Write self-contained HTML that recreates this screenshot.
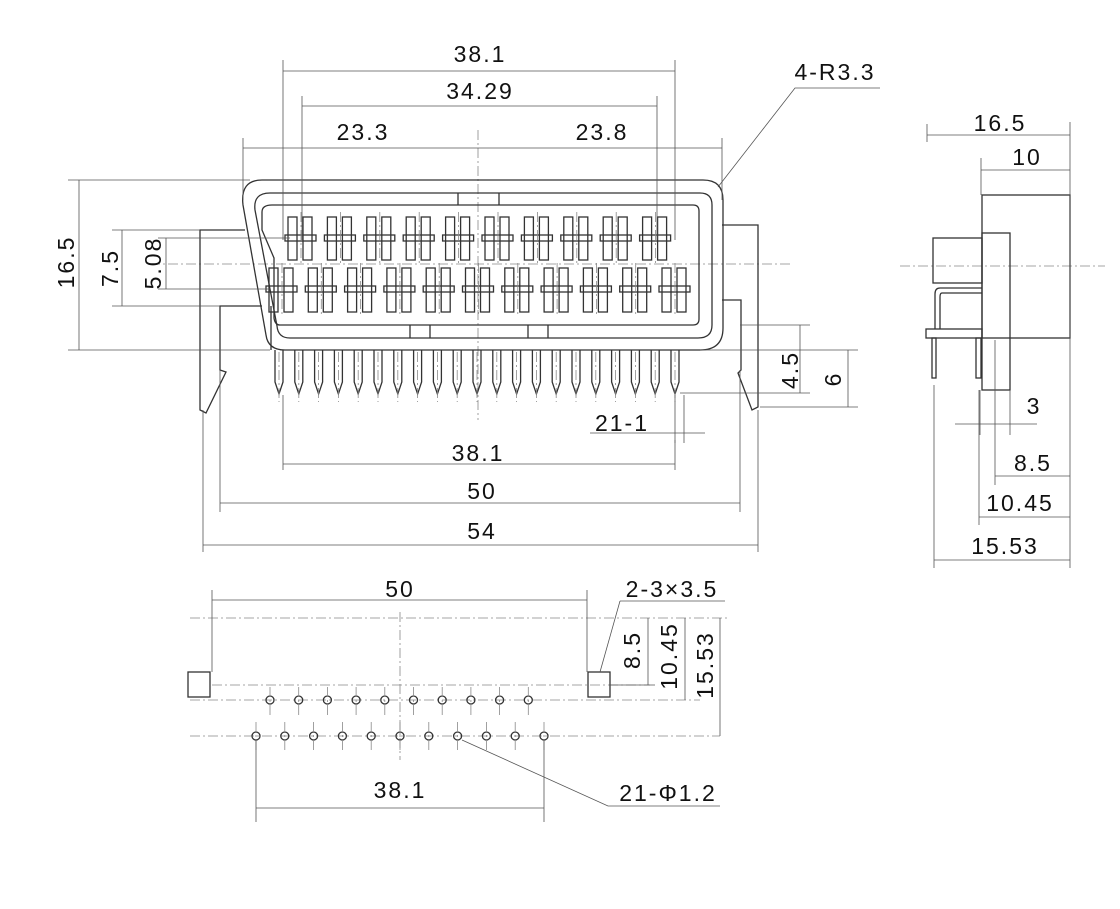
<!DOCTYPE html>
<html><head><meta charset="utf-8"><style>
html,body{margin:0;padding:0;background:#fff}
svg{display:block}
text{font-family:"Liberation Sans",sans-serif;font-size:23px;fill:#111;letter-spacing:2px}
.l{stroke:#333;stroke-width:1.3;fill:none}
.t{stroke:#555;stroke-width:0.8;fill:none}
.c{stroke:#888;stroke-width:0.8;fill:none;stroke-dasharray:10 3 2 3}
</style></head><body>
<svg id="s" width="1120" height="909" viewBox="0 0 1120 909" xmlns="http://www.w3.org/2000/svg">
<line class="c" x1="150" y1="264" x2="790" y2="264"/>
<line class="c" x1="478" y1="130" x2="478" y2="420"/>
<line class="c" x1="900" y1="266" x2="1105" y2="266"/>
<path class="l" d="M262,180 L703,180 Q723,180 723,200 L723,328 Q723,350 700,350 L285,350 Q268,350 266,335 L243,205 Q240,180 262,180 Z"/>
<path class="l" d="M270,193 L700,193 Q712,193 712,205 L712,325 Q712,338 698,338 L290,338 Q278,338 277,326 L255,210 Q253,193 270,193 Z"/>
<path class="l" d="M272,205 L693,205 Q699,205 699,211 L699,319 Q699,325 693,325 L280,325 Q275,325 274,318 L274,258 L262,230 L262,212 Q262,205 272,205 Z"/>
<path class="l" d="M458,193 L458,205 M499,193 L499,205 M410,325 L410,338 M430,325 L430,338 M528,325 L528,338 M548,325 L548,338"/>
<path class="l" d="M245,230 L200,230 L200,410 L206,413 L226,372 L220,370 L220,306 L262,306"/>
<path class="l" d="M722,225 L758,225 L758,407 L752,410 L738,373 L741,370 L741,300 L722,300"/>
<path class="l" d="M271,306 L271,350"/>
<g id="contacts"></g>
<g id="pins"></g>
<path class="t" d="M283,60 L283,240 M675,60 L675,240 M283,71 L675,71"/>
<text x="480" y="62" text-anchor="middle">38.1</text>
<path class="t" d="M302,96 L302,240 M657,96 L657,240 M302,106 L657,106"/>
<text x="480" y="99" text-anchor="middle">34.29</text>
<path class="t" d="M243,138 L243,200 M722,138 L722,200 M243,148 L722,148"/>
<text x="363" y="140" text-anchor="middle">23.3</text>
<text x="602" y="140" text-anchor="middle">23.8</text>
<text x="835" y="80" text-anchor="middle">4-R3.3</text>
<path class="t" d="M880,88 L795,88 L718,187"/>
<path class="t" d="M68,180 L250,180 M68,350 L270,350 M79,180 L79,350"/>
<text transform="translate(74,262) rotate(-90)" text-anchor="middle">16.5</text>
<path class="t" d="M112,230 L200,230 M112,306 L220,306 M122,230 L122,306"/>
<text transform="translate(118,268) rotate(-90)" text-anchor="middle">7.5</text>
<path class="t" d="M158,238 L290,238 M158,289 L270,289 M166,238 L166,289"/>
<text transform="translate(161,263) rotate(-90)" text-anchor="middle">5.08</text>
<path class="t" d="M740,325 L810,325 M680,393 L810,393 M800,325 L800,393 M700,350 L858,350 M760,407 L858,407 M848,350 L848,407"/>
<text transform="translate(798,370) rotate(-90)" text-anchor="middle">4.5</text>
<text transform="translate(841,379) rotate(-90)" text-anchor="middle">6</text>
<text x="622" y="431" text-anchor="middle">21-1</text>
<path class="t" d="M590,433 L705,433 M675,395 L675,443 M684,395 L684,443"/>
<path class="t" d="M283,395 L283,470 M675,440 L675,470 M283,464 L675,464"/>
<text x="478" y="461" text-anchor="middle">38.1</text>
<path class="t" d="M220,370 L220,512 M740,370 L740,512 M220,503 L740,503"/>
<text x="482" y="499" text-anchor="middle">50</text>
<path class="t" d="M203,410 L203,552 M758,410 L758,552 M203,545 L758,545"/>
<text x="482" y="539" text-anchor="middle">54</text>
<rect class="l" x="982" y="195" width="88" height="143"/>
<rect class="l" x="982" y="233" width="28" height="157" fill="#fff"/>
<rect class="l" x="933" y="238" width="49" height="45"/>
<path class="l" d="M982,288 L940,288 Q935,288 935,294 L935,329 M982,293 L942,293 Q940,293 940,297 L940,329"/>
<rect class="l" x="926" y="329" width="56" height="9"/>
<rect class="l" x="932" y="338" width="4" height="40"/>
<rect class="l" x="976" y="338" width="5" height="40"/>
<path class="t" d="M927,124 L927,142 M1070,122 L1070,568 M927,135 L1070,135"/>
<text x="1000" y="131" text-anchor="middle">16.5</text>
<path class="t" d="M981,158 L981,195 M981,170 L1070,170"/>
<text x="1027" y="165" text-anchor="middle">10</text>
<path class="t" d="M955,424 L1037,424 M980,390 L980,435 M1010,390 L1010,435"/>
<text x="1034" y="414" text-anchor="middle">3</text>
<path class="t" d="M995,340 L995,485 M995,476 L1070,476"/>
<text x="1033" y="471" text-anchor="middle">8.5</text>
<path class="t" d="M979,390 L979,525 M979,517 L1070,517"/>
<text x="1020" y="511" text-anchor="middle">10.45</text>
<path class="t" d="M934,385 L934,568 M934,560 L1070,560"/>
<text x="1005" y="554" text-anchor="middle">15.53</text>
<line class="c" x1="190" y1="618" x2="730" y2="618"/>
<line class="c" x1="212" y1="685" x2="650" y2="685"/>
<line class="c" x1="190" y1="700" x2="700" y2="700"/>
<line class="c" x1="190" y1="736" x2="720" y2="736"/>
<line class="c" x1="400" y1="612" x2="400" y2="760"/>
<rect class="l" x="188" y="672" width="22" height="25"/>
<rect class="l" x="588" y="672" width="22" height="25"/>
<g id="holes"></g>
<path class="t" d="M212,590 L212,672 M587,590 L587,672 M212,600 L587,600"/>
<text x="400" y="597" text-anchor="middle">50</text>
<text x="672" y="597" text-anchor="middle">2-3×3.5</text>
<path class="t" d="M620,601 L725,601 M620,601 L600,672"/>
<path class="t" d="M610,685 L655,685 M648,618 L648,685 M685,618 L685,700 M720,618 L720,736"/>
<text transform="translate(640,650) rotate(-90)" text-anchor="middle">8.5</text>
<text transform="translate(677,656) rotate(-90)" text-anchor="middle">10.45</text>
<text transform="translate(713,665) rotate(-90)" text-anchor="middle">15.53</text>
<path class="t" d="M256,740 L256,822 M544,740 L544,822 M256,808 L544,808"/>
<text x="400" y="798" text-anchor="middle">38.1</text>
<text x="668" y="801" text-anchor="middle">21-Φ1.2</text>
<path class="t" d="M462,740 L608,806 L720,806"/>
</svg>
<script>
var NS="http://www.w3.org/2000/svg";
function el(p,t,a){var e=document.createElementNS(NS,t);for(var k in a)e.setAttribute(k,a[k]);document.getElementById(p).appendChild(e);}
function contact(cx,y1,y2,by){
 el("contacts","rect",{x:cx-13,y:y1,width:9,height:y2-y1,"class":"l"});
 el("contacts","rect",{x:cx+2,y:y1,width:9,height:y2-y1,"class":"l"});
 el("contacts","rect",{x:cx-16,y:by-3,width:31,height:6,"class":"l",fill:"#fff"});
 el("contacts","line",{x1:cx,y1:y1-5,x2:cx,y2:y2+5,"class":"c"});
}
for(var i=0;i<10;i++)contact(301+i*39.4,217,260,238);
for(var i=0;i<11;i++)contact(282+i*39.3,268,312,289);
for(var i=0;i<21;i++){var x=279+i*19.8;
 el("pins","path",{d:"M"+(x-4)+",350 L"+(x-4)+",382 L"+x+",394 L"+(x+4)+",382 L"+(x+4)+",350","class":"l"});
 el("pins","line",{x1:x,y1:352,x2:x,y2:402,"class":"c"});}
for(var i=0;i<10;i++){var x=270+i*28.7;el("holes","circle",{cx:x,cy:700,r:4,"class":"l"});el("holes","line",{x1:x,y1:687,x2:x,y2:718,"class":"c"});}
for(var i=0;i<11;i++){var x=256+i*28.8;el("holes","circle",{cx:x,cy:736,r:4,"class":"l"});el("holes","line",{x1:x,y1:722,x2:x,y2:752,"class":"c"});}
</script>
</body></html>
